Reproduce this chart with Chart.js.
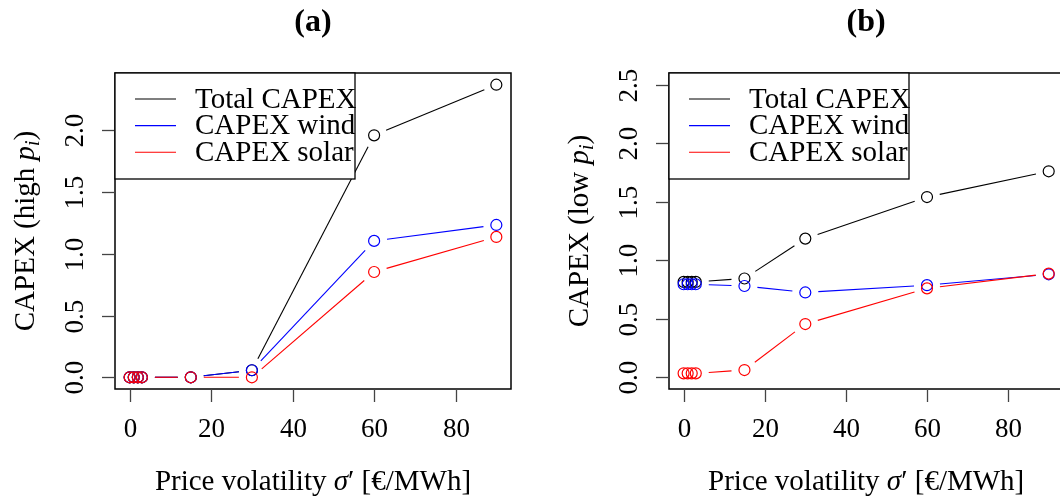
<!DOCTYPE html>
<html>
<head>
<meta charset="utf-8">
<title>CAPEX vs price volatility</title>
<script src="https://cdn.jsdelivr.net/npm/chart.js"></script>
<style>
  html, body { margin: 0; padding: 0; background: #fff; overflow: hidden; }
  body { width: 1060px; height: 502px; position: relative; }
  canvas { position: absolute; top: 0; }
</style>
</head>
<body>
<canvas id="chartA" width="530" height="502" style="left:0px"></canvas>
<canvas id="chartB" width="540" height="502" style="left:530px"></canvas>

<script>
// price volatility sigma' (EUR/MWh)
var sigma = [0, 1, 2, 3, 15, 30, 60, 90];

// (a) high p_i
var totalA = [0, 0, 0, 0, 0, 0.057, 1.96, 2.37];
var windA  = [0, 0, 0, 0, 0, 0.057, 1.105, 1.234];
var solarA = [0, 0, 0, 0, 0, 0, 0.853, 1.137];

// (b) low p_i
var totalB = [0.815, 0.815, 0.815, 0.815, 0.844, 1.185, 1.54, 1.76];
var windB  = [0.795, 0.795, 0.795, 0.795, 0.78, 0.725, 0.787, 0.88];
var solarB = [0.034, 0.034, 0.034, 0.034, 0.062, 0.455, 0.76, 0.886];

var xTicks = [0, 20, 40, 60, 80];
var yTicksA = [0, 0.5, 1.0, 1.5, 2.0];
var yTicksB = [0, 0.5, 1.0, 1.5, 2.0, 2.5];
var seriesNames = ['Total CAPEX', 'CAPEX wind', 'CAPEX solar'];
var seriesColors = ['#000000', '#0000ff', '#ff0000'];

var SERIF = '"Liberation Serif", "DejaVu Serif", serif';

function pts(ys) {
    return sigma.map(function (x, i) { return { x: x, y: ys[i] }; });
}

// draws text made of runs (plain / italic / subscript), centered at 0,0
function drawRuns(ctx, runs) {
    var w = 0;
    runs.forEach(function (r) { ctx.font = r.font; r.w = ctx.measureText(r.t).width; w += r.w; });
    var x = -w / 2;
    ctx.textAlign = 'left';
    ctx.textBaseline = 'alphabetic';
    runs.forEach(function (r) {
        ctx.font = r.font;
        ctx.fillText(r.t, x, r.dy || 0);
        x += r.w;
    });
}

// R style: lines with gaps around the points, box, axes, legend
var rPlot = {
    id: 'rPlot',
    afterDatasetsDraw: function (chart) {
        var ctx = chart.ctx;
        var area = chart.chartArea;
        ctx.save();
        ctx.beginPath();
        ctx.rect(area.left, area.top, area.right - area.left, area.bottom - area.top);
        ctx.clip();
        ctx.lineWidth = 1.1;
        var gap = 13;
        chart.data.datasets.forEach(function (ds, di) {
            var meta = chart.getDatasetMeta(di);
            ctx.strokeStyle = ds.borderColor;
            for (var i = 0; i < meta.data.length - 1; i++) {
                var p = meta.data[i], q = meta.data[i + 1];
                var dx = q.x - p.x, dy = q.y - p.y;
                var d = Math.sqrt(dx * dx + dy * dy);
                if (d <= 2 * gap) continue;
                var ux = dx / d, uy = dy / d;
                ctx.beginPath();
                ctx.moveTo(p.x + ux * gap, p.y + uy * gap);
                ctx.lineTo(q.x - ux * gap, q.y - uy * gap);
                ctx.stroke();
            }
        });
        ctx.restore();
    },
    afterDraw: function (chart) {
        var ctx = chart.ctx;
        var area = chart.chartArea;
        var o = chart.options.plugins.rPlot;
        var xs = chart.scales.x, ys = chart.scales.y;
        ctx.save();

        // box
        ctx.strokeStyle = '#000';
        ctx.lineWidth = 1.5;
        ctx.strokeRect(area.left, area.top, area.right - area.left, area.bottom - area.top);

        // x axis ticks
        ctx.strokeStyle = '#444';
        ctx.lineWidth = 1.3;
        ctx.fillStyle = '#000';
        ctx.font = '27px ' + SERIF;
        ctx.textAlign = 'center';
        ctx.textBaseline = 'middle';
        xTicks.forEach(function (v) {
            var px = Math.round(xs.getPixelForValue(v)) + 0.5;
            ctx.beginPath();
            ctx.moveTo(px, area.bottom);
            ctx.lineTo(px, area.bottom + 13);
            ctx.stroke();
            ctx.fillText(String(v), px, area.bottom + 41);
        });

        // y axis ticks, labels rotated
        o.yTicks.forEach(function (v) {
            var py = Math.round(ys.getPixelForValue(v)) + 0.5;
            ctx.beginPath();
            ctx.moveTo(area.left - 13, py);
            ctx.lineTo(area.left, py);
            ctx.stroke();
            ctx.save();
            ctx.translate(area.left - 39, py);
            ctx.rotate(-Math.PI / 2);
            ctx.textAlign = 'center';
            ctx.textBaseline = 'middle';
            ctx.font = '27px ' + SERIF;
            ctx.fillText(v.toFixed(1), 0, 0);
            ctx.restore();
        });

        var cx = (area.left + area.right) / 2;
        var cy = (area.top + area.bottom) / 2;

        // x title
        ctx.save();
        ctx.translate(cx, area.bottom + 101);
        drawRuns(ctx, [
            { t: 'Price volatility ', font: '29px ' + SERIF },
            { t: '\u03c3', font: 'italic 29px ' + SERIF },
            { t: '\u2032 [\u20ac/MWh]', font: '29px ' + SERIF }
        ]);
        ctx.restore();

        // y title
        ctx.save();
        ctx.translate(area.left - 81, cy);
        ctx.rotate(-Math.PI / 2);
        drawRuns(ctx, [
            { t: 'CAPEX (' + o.level + ' ', font: '29px ' + SERIF },
            { t: 'p', font: 'italic 29px ' + SERIF },
            { t: 'i', font: 'italic 20px ' + SERIF, dy: 5 },
            { t: ')', font: '29px ' + SERIF }
        ]);
        ctx.restore();

        // panel title
        ctx.save();
        ctx.translate(cx, 31);
        drawRuns(ctx, [{ t: o.title, font: 'bold 32px ' + SERIF }]);
        ctx.restore();

        // legend
        var lx = area.left, ly = area.top;
        ctx.fillStyle = '#fff';
        ctx.fillRect(lx, ly, 240, 106);
        ctx.strokeStyle = '#000';
        ctx.lineWidth = 1.3;
        ctx.strokeRect(lx, ly, 240, 106);
        ctx.font = '29px ' + SERIF;
        ctx.textAlign = 'left';
        ctx.textBaseline = 'middle';
        seriesNames.forEach(function (name, i) {
            var yy = ly + 26 + i * 26.6;
            ctx.strokeStyle = seriesColors[i];
            ctx.lineWidth = 1.1;
            ctx.beginPath();
            ctx.moveTo(lx + 20, yy);
            ctx.lineTo(lx + 61, yy);
            ctx.stroke();
            ctx.fillStyle = '#000';
            ctx.fillText(name, lx + 80, yy + 1);
        });

        ctx.restore();
    }
};

function makeChart(id, total, wind, solar, yMin, yMax, pad, opts) {
    var series = [total, wind, solar];
    return new Chart(document.getElementById(id).getContext('2d'), {
        type: 'scatter',
        data: {
            datasets: series.map(function (s, i) {
                return {
                    label: seriesNames[i],
                    data: pts(s),
                    borderColor: seriesColors[i],
                    pointBorderColor: seriesColors[i],
                    pointBackgroundColor: 'rgba(0,0,0,0)',
                    pointRadius: 5.5,
                    pointBorderWidth: 1.2,
                    showLine: false,
                    order: 3 - i
                };
            })
        },
        options: {
            responsive: false,
            animation: false,
            layout: { padding: pad },
            scales: {
                x: { type: 'linear', min: -3.6, max: 93.6, display: false },
                y: { type: 'linear', min: yMin, max: yMax, display: false }
            },
            plugins: {
                legend: { display: false },
                tooltip: { enabled: false },
                rPlot: opts
            }
        },
        plugins: [rPlot]
    });
}

makeChart('chartA', totalA, windA, solarA, -0.0948, 2.4648,
    { left: 115, right: 19, top: 73, bottom: 113 },
    { title: '(a)', level: 'high', yTicks: yTicksA });

makeChart('chartB', totalB, windB, solarB, -0.1, 2.6,
    { left: 139, right: 5, top: 73, bottom: 113 },
    { title: '(b)', level: 'low', yTicks: yTicksB });
</script>
</body>
</html>
